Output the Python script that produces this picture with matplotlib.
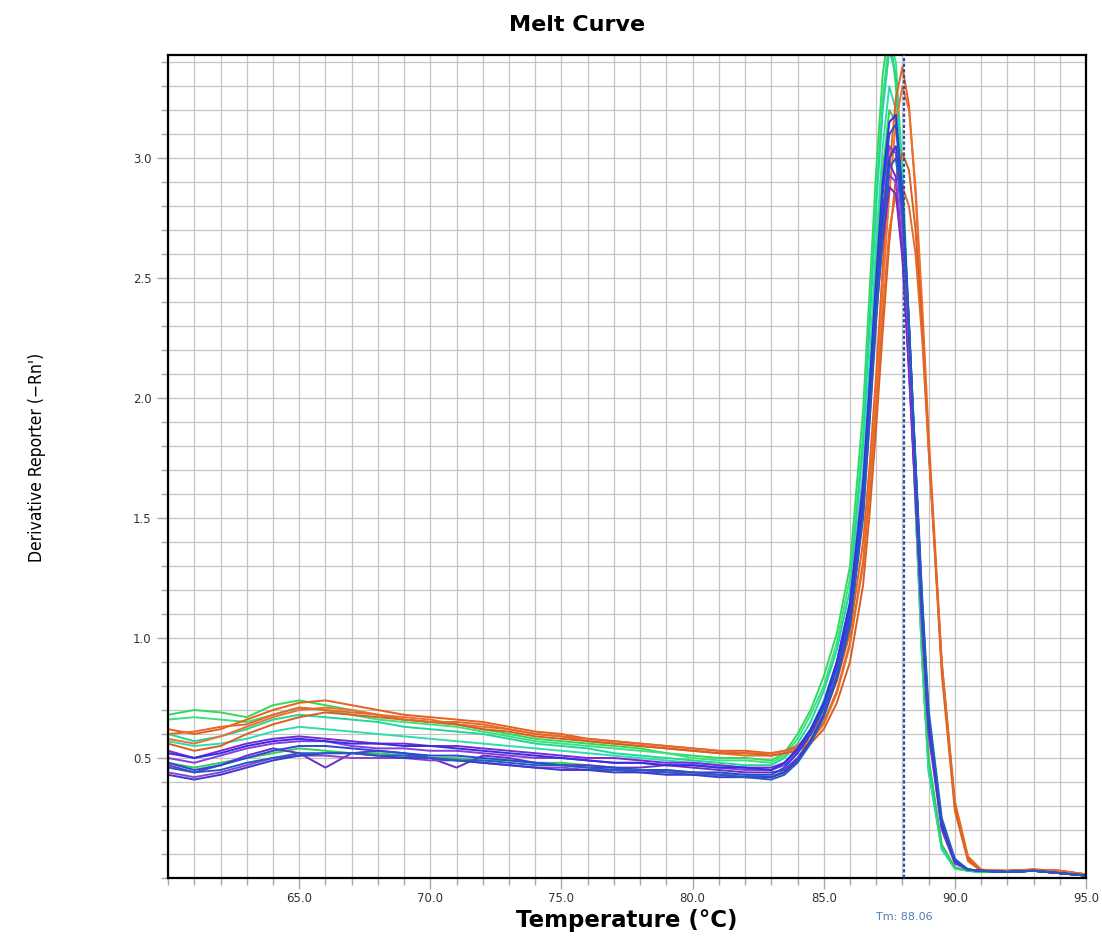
"""Melt curve (derivative reporter vs temperature) for a qPCR run."""

import matplotlib
matplotlib.use('Agg')
import matplotlib.pyplot as plt
from matplotlib.ticker import FixedLocator, MultipleLocator
from matplotlib.transforms import blended_transform_factory

# temperature grid shared by all wells [deg C]
temps = [60, 61, 62, 63, 64, 65, 66, 67, 68, 69, 70, 71, 72, 73, 74, 75,
         76, 77, 78, 79, 80, 81, 82, 83,
         83.5, 84, 84.5, 85, 85.5, 86, 86.5, 86.75, 87, 87.25, 87.5, 87.75,
         88, 88.25, 88.5, 88.75, 89, 89.5, 90, 90.5, 91, 92, 93, 94, 95]

# derivative reporter, one list per well (baseline 60-83, then the melt peak)
green_1 = [0.68, 0.70, 0.69, 0.67, 0.72, 0.74, 0.72, 0.70, 0.68, 0.66, 0.65, 0.64,
           0.62, 0.60, 0.58, 0.57, 0.56, 0.55, 0.54, 0.52, 0.51, 0.50, 0.50, 0.49,
           0.52, 0.60, 0.70, 0.84, 1.02, 1.30, 1.95, 2.45, 2.95, 3.35, 3.55, 3.30,
           2.80, 2.20, 1.55, 0.92, 0.45, 0.12, 0.04, 0.03, 0.025, 0.025, 0.03, 0.02, 0.01]
green_2 = [0.66, 0.67, 0.66, 0.65, 0.68, 0.71, 0.70, 0.68, 0.66, 0.65, 0.64, 0.63,
           0.61, 0.59, 0.57, 0.56, 0.55, 0.54, 0.53, 0.52, 0.50, 0.49, 0.49, 0.48,
           0.51, 0.58, 0.68, 0.80, 0.98, 1.25, 1.85, 2.35, 2.85, 3.25, 3.50, 3.40,
           2.95, 2.30, 1.60, 0.95, 0.48, 0.13, 0.04, 0.03, 0.025, 0.025, 0.03, 0.02, 0.01]
green_3 = [0.60, 0.57, 0.59, 0.62, 0.66, 0.68, 0.67, 0.66, 0.65, 0.63, 0.62, 0.61,
           0.60, 0.58, 0.56, 0.55, 0.54, 0.52, 0.51, 0.50, 0.49, 0.48, 0.47, 0.47,
           0.50, 0.56, 0.65, 0.78, 0.95, 1.20, 1.80, 2.30, 2.80, 3.20, 3.45, 3.35,
           2.90, 2.25, 1.55, 0.90, 0.44, 0.12, 0.04, 0.03, 0.025, 0.025, 0.03, 0.02, 0.01]
green_4 = [0.57, 0.55, 0.56, 0.58, 0.61, 0.63, 0.62, 0.61, 0.60, 0.59, 0.58, 0.57,
           0.56, 0.55, 0.54, 0.53, 0.52, 0.51, 0.50, 0.49, 0.48, 0.47, 0.46, 0.45,
           0.48, 0.54, 0.62, 0.74, 0.90, 1.15, 1.70, 2.15, 2.65, 3.05, 3.30, 3.20,
           2.80, 2.20, 1.55, 0.92, 0.46, 0.13, 0.04, 0.03, 0.025, 0.025, 0.03, 0.02, 0.01]
green_5 = [0.48, 0.46, 0.48, 0.50, 0.52, 0.54, 0.53, 0.52, 0.52, 0.51, 0.50, 0.50,
           0.49, 0.49, 0.48, 0.48, 0.47, 0.46, 0.45, 0.45, 0.44, 0.43, 0.43, 0.42,
           0.45, 0.50, 0.58, 0.70, 0.86, 1.10, 1.62, 2.05, 2.55, 2.95, 3.20, 3.15,
           2.80, 2.25, 1.60, 0.98, 0.50, 0.14, 0.045, 0.03, 0.025, 0.025, 0.03, 0.02, 0.01]

orange_1 = [0.62, 0.60, 0.62, 0.66, 0.70, 0.73, 0.74, 0.72, 0.70, 0.68, 0.67, 0.66,
            0.65, 0.63, 0.61, 0.60, 0.58, 0.57, 0.56, 0.55, 0.54, 0.53, 0.53, 0.52,
            0.53, 0.55, 0.60, 0.68, 0.82, 1.02, 1.40, 1.72, 2.10, 2.55, 2.95, 3.25,
            3.38, 3.22, 2.85, 2.35, 1.80, 0.85, 0.28, 0.07, 0.03, 0.03, 0.035, 0.03, 0.015]
orange_2 = [0.58, 0.56, 0.59, 0.63, 0.67, 0.70, 0.71, 0.70, 0.68, 0.67, 0.66, 0.64,
            0.63, 0.62, 0.60, 0.59, 0.57, 0.56, 0.55, 0.54, 0.53, 0.52, 0.51, 0.51,
            0.52, 0.53, 0.57, 0.64, 0.77, 0.97, 1.32, 1.65, 2.02, 2.45, 2.85, 3.15,
            3.30, 3.20, 2.88, 2.40, 1.85, 0.90, 0.30, 0.08, 0.03, 0.03, 0.035, 0.03, 0.015]
orange_3 = [0.56, 0.53, 0.55, 0.60, 0.64, 0.67, 0.69, 0.68, 0.67, 0.66, 0.65, 0.64,
            0.62, 0.61, 0.59, 0.58, 0.57, 0.56, 0.55, 0.54, 0.53, 0.52, 0.52, 0.51,
            0.52, 0.53, 0.56, 0.62, 0.73, 0.90, 1.22, 1.52, 1.88, 2.28, 2.65, 2.92,
            3.02, 2.95, 2.70, 2.30, 1.80, 0.88, 0.30, 0.08, 0.03, 0.03, 0.035, 0.03, 0.015]
orange_4 = [0.60, 0.61, 0.63, 0.64, 0.68, 0.71, 0.70, 0.69, 0.68, 0.66, 0.65, 0.65,
            0.64, 0.62, 0.60, 0.59, 0.58, 0.57, 0.56, 0.55, 0.54, 0.53, 0.52, 0.52,
            0.53, 0.54, 0.58, 0.65, 0.78, 0.98, 1.30, 1.60, 1.95, 2.35, 2.70, 2.85,
            2.88, 2.80, 2.60, 2.25, 1.78, 0.90, 0.32, 0.09, 0.035, 0.03, 0.035, 0.03, 0.015]

purple_1 = [0.53, 0.50, 0.53, 0.56, 0.58, 0.59, 0.58, 0.57, 0.56, 0.56, 0.55, 0.55,
            0.54, 0.53, 0.52, 0.51, 0.50, 0.50, 0.49, 0.48, 0.48, 0.47, 0.46, 0.46,
            0.48, 0.53, 0.61, 0.72, 0.90, 1.15, 1.65, 2.05, 2.45, 2.78, 2.98, 2.92,
            2.60, 2.10, 1.58, 1.05, 0.60, 0.20, 0.06, 0.035, 0.03, 0.025, 0.03, 0.02, 0.01]
purple_2 = [0.50, 0.48, 0.51, 0.54, 0.56, 0.57, 0.57, 0.55, 0.54, 0.54, 0.53, 0.53,
            0.52, 0.51, 0.50, 0.50, 0.49, 0.48, 0.48, 0.47, 0.47, 0.46, 0.45, 0.45,
            0.47, 0.52, 0.60, 0.71, 0.88, 1.12, 1.60, 2.00, 2.40, 2.72, 2.93, 2.90,
            2.62, 2.15, 1.62, 1.08, 0.62, 0.21, 0.065, 0.035, 0.03, 0.025, 0.03, 0.02, 0.01]
purple_3 = [0.47, 0.44, 0.47, 0.51, 0.54, 0.52, 0.46, 0.52, 0.53, 0.52, 0.50, 0.46,
            0.51, 0.50, 0.48, 0.47, 0.47, 0.46, 0.46, 0.47, 0.46, 0.45, 0.44, 0.44,
            0.45, 0.50, 0.57, 0.68, 0.84, 1.08, 1.55, 1.95, 2.35, 2.65, 2.88, 2.85,
            2.58, 2.12, 1.60, 1.08, 0.63, 0.22, 0.07, 0.035, 0.03, 0.025, 0.03, 0.02, 0.01]
purple_4 = [0.44, 0.42, 0.44, 0.47, 0.50, 0.51, 0.51, 0.50, 0.50, 0.50, 0.49, 0.49,
            0.48, 0.47, 0.46, 0.46, 0.45, 0.45, 0.44, 0.44, 0.43, 0.43, 0.42, 0.42,
            0.44, 0.49, 0.57, 0.68, 0.85, 1.10, 1.58, 1.98, 2.40, 2.75, 3.05, 3.02,
            2.70, 2.20, 1.65, 1.10, 0.64, 0.22, 0.07, 0.035, 0.03, 0.025, 0.03, 0.02, 0.01]

blue_1 = [0.52, 0.50, 0.52, 0.55, 0.57, 0.58, 0.57, 0.56, 0.56, 0.55, 0.55, 0.54,
          0.53, 0.52, 0.51, 0.50, 0.49, 0.48, 0.48, 0.47, 0.47, 0.46, 0.46, 0.45,
          0.48, 0.54, 0.62, 0.73, 0.90, 1.14, 1.62, 2.05, 2.50, 2.90, 3.15, 3.18,
          2.85, 2.30, 1.70, 1.12, 0.64, 0.22, 0.07, 0.035, 0.03, 0.025, 0.03, 0.02, 0.01]
blue_2 = [0.48, 0.45, 0.47, 0.50, 0.53, 0.55, 0.55, 0.54, 0.53, 0.52, 0.51, 0.51,
          0.50, 0.49, 0.48, 0.47, 0.46, 0.46, 0.45, 0.45, 0.44, 0.44, 0.43, 0.43,
          0.46, 0.52, 0.60, 0.71, 0.88, 1.10, 1.58, 2.00, 2.45, 2.85, 3.10, 3.14,
          2.85, 2.32, 1.72, 1.14, 0.66, 0.23, 0.07, 0.035, 0.03, 0.025, 0.03, 0.02, 0.01]
blue_3 = [0.43, 0.41, 0.43, 0.46, 0.49, 0.51, 0.52, 0.52, 0.51, 0.50, 0.50, 0.49,
          0.48, 0.47, 0.46, 0.45, 0.45, 0.44, 0.44, 0.43, 0.43, 0.42, 0.42, 0.42,
          0.44, 0.49, 0.57, 0.68, 0.84, 1.06, 1.52, 1.92, 2.35, 2.75, 3.00, 3.05,
          2.80, 2.30, 1.72, 1.15, 0.67, 0.23, 0.075, 0.035, 0.03, 0.025, 0.03, 0.02, 0.01]
blue_4 = [0.46, 0.44, 0.45, 0.48, 0.50, 0.52, 0.52, 0.52, 0.51, 0.51, 0.50, 0.49,
          0.49, 0.48, 0.47, 0.47, 0.46, 0.45, 0.45, 0.44, 0.44, 0.43, 0.42, 0.41,
          0.43, 0.48, 0.56, 0.67, 0.83, 1.05, 1.50, 1.90, 2.32, 2.70, 2.96, 3.00,
          2.78, 2.30, 1.74, 1.18, 0.70, 0.25, 0.08, 0.035, 0.03, 0.025, 0.03, 0.02, 0.01]

tm_value = 88.06
x_tick_values = [65, 70, 75, 80, 85, 90, 95]
y_tick_values = [0.5, 1.0, 1.5, 2.0, 2.5, 3.0]

# draw order: greens, oranges, purples, blues on top
wells = [
    (green_1, '#2edb5a'), (green_2, '#3fe07e'), (green_3, '#22d69a'),
    (green_4, '#2fdcb0'), (green_5, '#33cc55'),
    (orange_1, '#e8601c'), (orange_2, '#f07030'), (orange_3, '#d95f20'),
    (orange_4, '#e26a2c'),
    (purple_1, '#7a28d8'), (purple_2, '#8a3ae0'), (purple_3, '#6b2fc8'),
    (purple_4, '#9040d0'),
    (blue_1, '#3030e0'), (blue_2, '#2848d8'), (blue_3, '#3a3ad0'),
    (blue_4, '#1f5fbf'),
]

fig = plt.figure(figsize=(11.02, 9.39), dpi=100)
ax = fig.add_axes([0.1525, 0.065, 0.833, 0.8765])

for values, colour in wells:
    ax.plot(temps, values, color=colour, lw=1.4, solid_joinstyle='round')

# melting temperature marker
ax.axvline(tm_value, color='#2b4fa8', lw=1.6, ls=(0, (1.5, 1.0)), zorder=5)
trans = blended_transform_factory(ax.transData, ax.transAxes)
ax.text(tm_value, -0.047, 'Tm: %.2f' % tm_value, transform=trans, color='#4f7db0',
        fontsize=8, ha='center', va='center')

ax.set_xlim(60, 95)
ax.set_ylim(0, 3.43)

ax.xaxis.set_major_locator(FixedLocator(x_tick_values))
ax.xaxis.set_minor_locator(MultipleLocator(1))
ax.yaxis.set_major_locator(FixedLocator(y_tick_values))
ax.yaxis.set_minor_locator(MultipleLocator(0.1))
ax.set_xticklabels(['%.1f' % v for v in x_tick_values])
ax.set_yticklabels(['%.1f' % v for v in y_tick_values])

ax.grid(True, which='both', color='#c4c4c4', lw=0.9)
ax.set_axisbelow(True)
ax.tick_params(which='both', direction='out', color='#a8a8a8', labelsize=8.5,
               labelcolor='#333333')
ax.tick_params(which='major', length=8, width=1)
ax.tick_params(which='minor', length=5, width=1)
ax.tick_params(axis='x', pad=2)
ax.tick_params(axis='y', pad=4)
for side in ['left', 'right', 'top', 'bottom']:
    ax.spines[side].set_color('black')
    ax.spines[side].set_linewidth(1.6)

fig.text(0.524, 0.973, 'Melt Curve', ha='center', va='center',
         fontsize=16, fontweight='bold')
fig.text(0.569, 0.020, 'Temperature (°C)', ha='center', va='center',
         fontsize=16.5, fontweight='bold')
fig.text(0.034, 0.513, "Derivative Reporter (−Rn')", rotation=90,
         ha='center', va='center', fontsize=12.5, fontstretch='condensed',
         family=['Liberation Sans Narrow', 'DejaVu Sans'])

fig.savefig('out.png', dpi=100)
